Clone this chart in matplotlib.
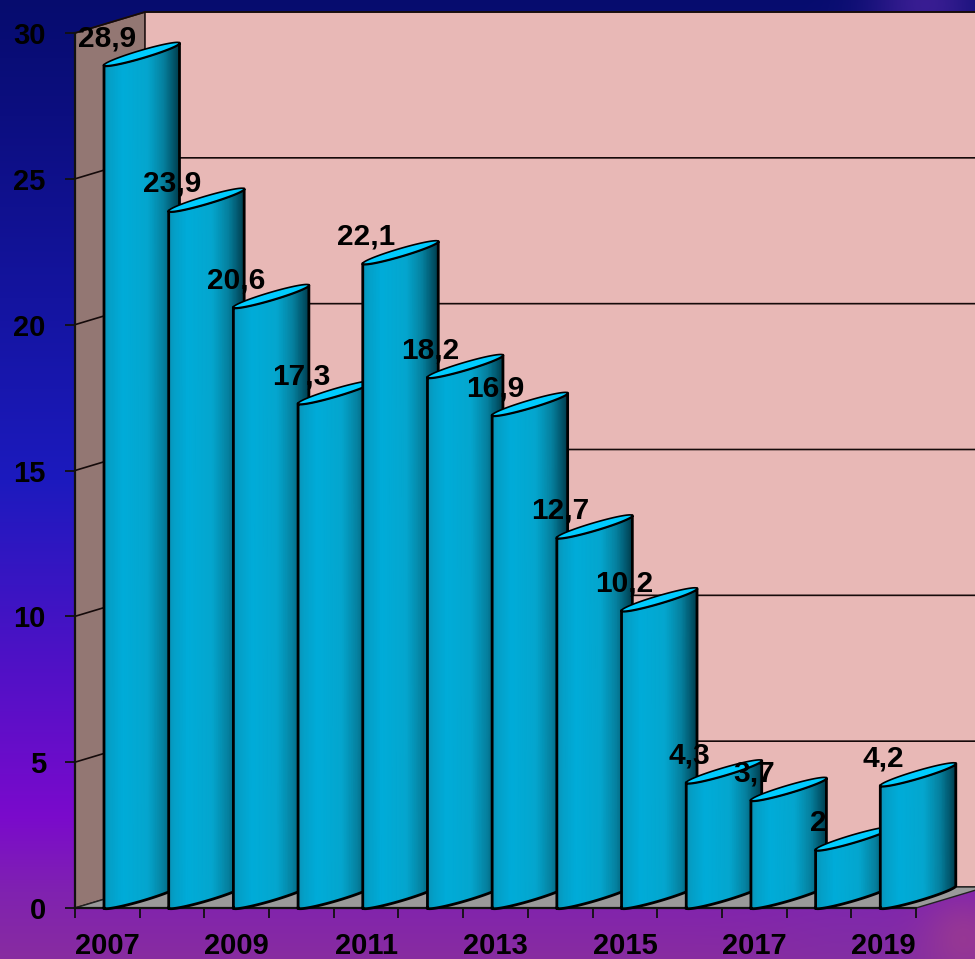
import numpy as np
import matplotlib
matplotlib.use("Agg")
import matplotlib.pyplot as plt
from matplotlib.colors import LinearSegmentedColormap

years = [2007, 2008, 2009, 2010, 2011, 2012, 2013, 2014, 2015, 2016, 2017, 2018, 2019]
values = [28.9, 23.9, 20.6, 17.3, 22.1, 18.2, 16.9, 12.7, 10.2, 4.3, 3.7, 2, 4.2]
value_labels = ["28,9", "23,9", "20,6", "17,3", "22,1", "18,2", "16,9", "12,7", "10,2", "4,3", "3,7", "2", "4,2"]
y_ticks = [0, 5, 10, 15, 20, 25, 30]

W, H = 975, 959
plt.rcParams["font.family"] = ["Liberation Sans", "DejaVu Sans"]
plt.rcParams["font.weight"] = "bold"
fig = plt.figure(figsize=(W / 100, H / 100), dpi=100)

# background gradient
bg = fig.add_axes([0, 0, 1, 1], zorder=0)
bg.set_axis_off()
yy, xx = np.mgrid[0:H, 0:W]
stops_y = [0, 0.12, 0.5, 0.85, 0.93, 1.0]
stops_c = np.array([[6, 12, 110], [12, 14, 128], [28, 26, 190], [122, 10, 204], [128, 34, 176], [136, 44, 160]], float)
img = np.stack([np.interp(yy / H, stops_y, stops_c[:, i]) for i in range(3)], axis=-1)
for cx, cy, r, col, a in [(962, 935, 28, (170, 70, 130), 0.5), (925, 2, 40, (90, 40, 170), 0.6), (850, 945, 60, (120, 50, 170), 0.3)]:
    m = a * np.exp(-((xx - cx) ** 2 + (yy - cy) ** 2) / (2 * r ** 2))
    img = img * (1 - m[..., None]) + np.array(col, float) * m[..., None]
bg.imshow(img.astype(np.uint8), extent=(0, W, H, 0), aspect="auto", interpolation="bilinear")

ax = fig.add_axes([75 / W, (H - 908) / H, (916 - 75) / W, (908 - 33) / H], zorder=1)
ax.set_xlim(0, len(years))
ax.set_ylim(0, 30)
ax.patch.set_visible(False)

depth_x = 70 / 64.7
depth_y = 21 / (875 / 30)
bar_lead = 29 / 64.7
bar_w = 75.5 / 64.7
bar_rise = 22 / (875 / 30)
bulge = 4 / (875 / 30)
n = len(years)

# walls and floor
ax.fill([0, depth_x, depth_x, 0], [0, depth_y, 30 + depth_y, 30], color="#937773", ec="#2a1a1a", lw=1.2, clip_on=False, zorder=1)
ax.fill([depth_x, n + 1.6, n + 1.6, depth_x], [depth_y, depth_y, 30 + depth_y, 30 + depth_y], color="#e8b8b6", ec="#2a1a1a", lw=1.2, clip_on=False, zorder=1)
ax.fill([0, n, n + depth_x, depth_x], [0, 0, depth_y, depth_y], color="#9a9a9a", ec="#222222", lw=1.0, clip_on=False, zorder=1)
for t in y_ticks[1:]:
    ax.plot([0, depth_x, n + 1.6], [t, t + depth_y, t + depth_y], color="#150a0a", lw=1.2, clip_on=False, zorder=2)

cmap = LinearSegmentedColormap.from_list("cyl", [(0, "#0a93b8"), (0.08, "#04a0c8"), (0.25, "#00acd9"),
                                                 (0.58, "#04a6ce"), (0.8, "#057f9d"), (1, "#003f50")])
theta = np.linspace(0, np.pi, 60)
ex = bar_w * (1 - np.cos(theta)) / 2
er = bar_rise * (1 - np.cos(theta)) / 2
eb = bulge * np.sin(theta)

for i, v in enumerate(values):
    z = 3 + i * 0.01
    left = i + bar_lead
    X = left + ex
    bottom = er - eb
    bottom[0] = 0
    top = v + er - eb
    XX = np.vstack([X, X])
    YY = np.vstack([bottom, top])
    CC = np.vstack([ex / bar_w, ex / bar_w])
    ax.pcolormesh(XX, YY, CC, cmap=cmap, shading="gouraud", vmin=0, vmax=1, clip_on=False, zorder=z)
    ox = np.concatenate([X, X[::-1], [X[0]]])
    oy = np.concatenate([bottom, top[::-1], [bottom[0]]])
    ax.plot(ox, oy, color="black", lw=2.0, clip_on=False, zorder=z, solid_joinstyle="round")
    tx = np.concatenate([X, X[::-1]])
    ty = np.concatenate([v + er - eb, (v + er + eb)[::-1]])
    ax.fill(tx, ty, fc="#00ccff", ec="black", lw=1.2, clip_on=False, zorder=z)

for i, (v, s) in enumerate(zip(values, value_labels)):
    ax.annotate(s, (i + bar_lead, v), xytext=(3, 27), textcoords="offset pixels", ha="center", va="center",
                fontsize=21.5, fontweight="bold", color="black", zorder=10, annotation_clip=False)

ax.set_yticks(y_ticks)
ax.set_yticklabels([str(t) for t in y_ticks], fontsize=21, fontweight="bold", color="black")
ax.tick_params(axis="y", length=7, width=1.3, color="#111111", pad=14)
ax.set_xticks(np.arange(n) + 0.5)
ax.set_xticklabels([str(y) if j % 2 == 0 else "" for j, y in enumerate(years)], fontsize=21, fontweight="bold", color="black")
ax.set_xticks(np.arange(n + 1), minor=True)
ax.tick_params(axis="x", which="major", length=0, pad=17)
ax.tick_params(axis="x", which="minor", length=7, width=1.3, color="#111111")
for s in ["top", "right"]:
    ax.spines[s].set_visible(False)
for s in ["left", "bottom"]:
    ax.spines[s].set_linewidth(1.6)
    ax.spines[s].set_color("#111111")
    ax.spines[s].set_zorder(2.5)

fig.savefig("out.png", dpi=100)
